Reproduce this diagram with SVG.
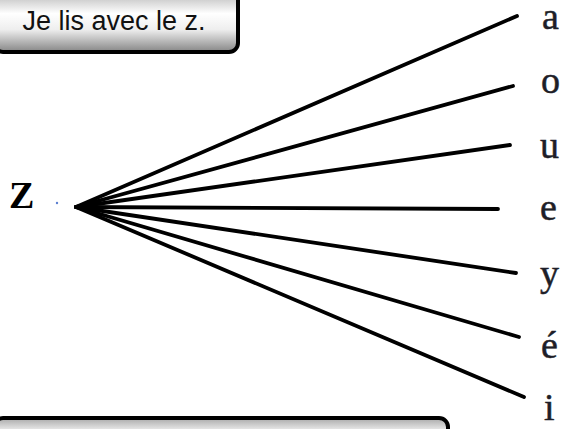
<svg xmlns="http://www.w3.org/2000/svg" width="569" height="429" viewBox="0 0 569 429">
<style>
.btn{stroke:#000;stroke-width:4;fill:url(#g)}
.bt{font-family:"Liberation Sans",Arial,sans-serif;font-size:27px;fill:#111}
.lt{font-family:"Liberation Serif","Times New Roman",serif;font-size:38px;fill:#1e1e28;stroke:#1e1e28;stroke-width:0.5}
.ln{stroke:#000;stroke-width:3.8;stroke-linecap:round;fill:none}
</style>
<defs>
<linearGradient id="g" x1="0" y1="0" x2="0" y2="1">
<stop offset="0" stop-color="#a8a8a8"/>
<stop offset="0.4" stop-color="#ffffff"/>
<stop offset="0.65" stop-color="#eeeeee"/>
<stop offset="1" stop-color="#858585"/>
</linearGradient>
</defs>
<g id="title">
<rect class="btn" x="-6" y="-12" width="244" height="64" rx="9"/>
<text class="bt" x="114" y="30" text-anchor="middle">Je lis avec le z.</text>
</g>
<g id="bottom-box">
<rect class="btn" x="-6" y="418" width="454" height="40" rx="9"/>
</g>
<g id="z">
<text x="9" y="208" font-family="Liberation Serif,'Times New Roman',serif" font-weight="bold" font-size="38" fill="#000">Z</text>
<circle cx="57" cy="203" r="1.2" fill="#5b7fd0"/>
</g>
<g id="connectors">
<line class="ln" x1="76" y1="207" x2="517" y2="16"/>
<line class="ln" x1="76" y1="207" x2="513" y2="86"/>
<line class="ln" x1="76" y1="207" x2="510" y2="145"/>
<line class="ln" x1="76" y1="207" x2="498" y2="209"/>
<line class="ln" x1="76" y1="207" x2="516" y2="273"/>
<line class="ln" x1="76" y1="207" x2="519" y2="337"/>
<line class="ln" x1="76" y1="207" x2="524" y2="397"/>
</g>
<g id="letters">
<text class="lt" x="542" y="29">a</text>
<text class="lt" x="541" y="93">o</text>
<text class="lt" x="540" y="158">u</text>
<text class="lt" x="540" y="220">e</text>
<text class="lt" x="540" y="286">y</text>
<text class="lt" x="541" y="358">é</text>
<text class="lt" x="544" y="420">i</text>
</g>
</svg>
